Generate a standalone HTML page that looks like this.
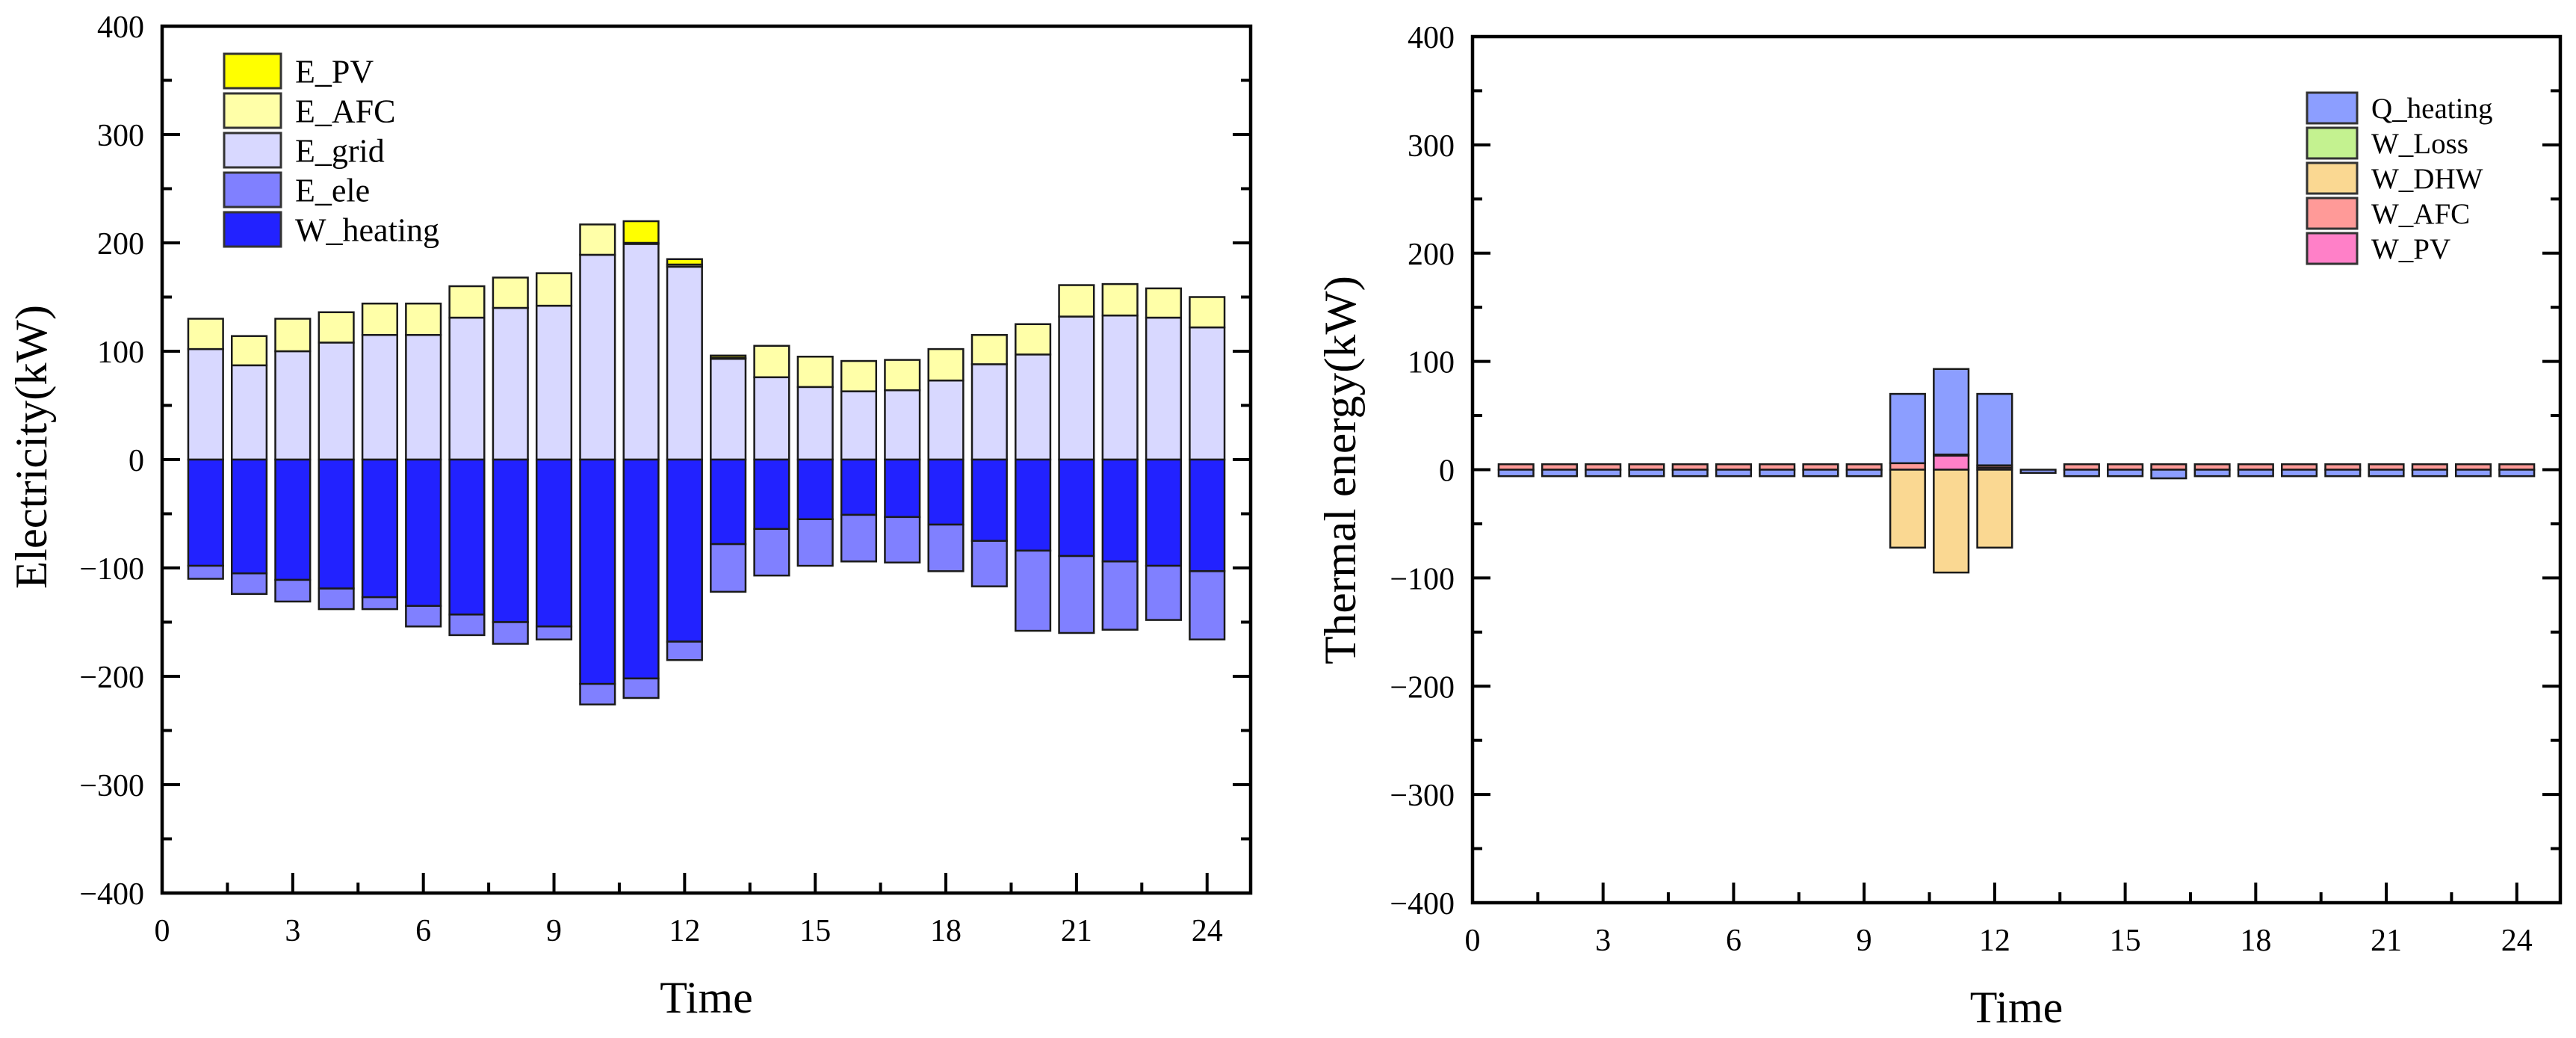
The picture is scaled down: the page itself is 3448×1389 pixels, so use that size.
<!DOCTYPE html>
<html><head><meta charset="utf-8">
<style>
html,body{margin:0;padding:0;background:#fff;}
svg{display:block;font-family:"Liberation Serif",serif;}
</style></head>
<body>
<svg id="fig" width="3448" height="1389" viewBox="0 0 3448 1389" xmlns="http://www.w3.org/2000/svg"></svg>
<script>
// ---------- data ----------
const hours = [1,2,3,4,5,6,7,8,9,10,11,12,13,14,15,16,17,18,19,20,21,22,23,24];
const yTicks = [-400,-300,-200,-100,0,100,200,300,400];
const xTicks = [0,3,6,9,12,15,18,21,24];
// Left chart (electricity)
const E_grid    = [102,87,100,108,115,115,131,140,142,189,199,178,93,76,67,63,64,73,88,97,132,133,131,122];
const E_AFC     = [28,27,30,28,29,29,29,28,30,28,1,2,1,29,28,28,28,29,27,28,29,29,27,28];
const E_PV      = [0,0,0,0,0,0,0,0,0,0,20,5,2,0,0,0,0,0,0,0,0,0,0,0];
const W_heating = [-98,-105,-111,-119,-127,-135,-143,-150,-154,-207,-202,-168,-78,-64,-55,-51,-53,-60,-75,-84,-89,-94,-98,-103];
const E_ele     = [-12,-19,-20,-19,-11,-19,-19,-20,-12,-19,-18,-17,-44,-43,-43,-43,-42,-43,-42,-74,-71,-63,-50,-63];
// Right chart (thermal)
const Q_heating = [-6,-6,-6,-6,-6,-6,-6,-6,-6,64,79,66,-3,-6,-6,-8,-6,-6,-6,-6,-6,-6,-6,-6];
const W_Loss    = [0,0,0,0,0,0,0,0,0,0,0,0,0,0,0,0,0,0,0,0,0,0,0,0];
const W_DHW     = [0,0,0,0,0,0,0,0,0,-72,-95,-72,0,0,0,0,0,0,0,0,0,0,0,0];
const W_AFC     = [5,5,5,5,5,5,5,5,5,6,1,2,0,5,5,5,5,5,5,5,5,5,5,5];
const W_PV      = [0,0,0,0,0,0,0,0,0,0,13,2,0,0,0,0,0,0,0,0,0,0,0,0];

const NS = "http://www.w3.org/2000/svg";
const svg = document.getElementById('fig');
function mk(tag, attrs, parent){
  const e = document.createElementNS(NS, tag);
  for (const k in attrs) e.setAttribute(k, attrs[k]);
  (parent||svg).appendChild(e);
  return e;
}

function drawChart(c){
  const g = mk('g', {});
  
  
  const xs = v => c.x0 + (v - 0) / 25 * (c.x1 - c.x0);
  const ys = v => c.y0 + (400 - v) / 800 * (c.y1 - c.y0);
  const bw = 0.8 * (c.x1 - c.x0) / 25;
  hours.forEach((h, i) => {
    let pos = 0, neg = 0;
    c.posOrder.forEach(s => {
      const v = s.data[i];
      if (v > 0) {
        const r = mk('rect', {x: xs(h) - bw/2, y: ys(pos + v), width: bw, height: ys(pos) - ys(pos + v), fill: s.color, stroke: '#1a1a1a', 'stroke-width': 2.5}, g);
        
        
        pos += v;
      }
    });
    c.negOrder.forEach(s => {
      const v = s.data[i];
      if (v < 0) {
        const r = mk('rect', {x: xs(h) - bw/2, y: ys(neg), width: bw, height: ys(neg + v) - ys(neg), fill: s.color, stroke: '#1a1a1a', 'stroke-width': 2.5}, g);
        
        
        neg += v;
      }
    });
  });
  const fr = mk('rect', {x: c.x0, y: c.y0, width: c.x1 - c.x0, height: c.y1 - c.y0, fill: 'none', stroke: '#000', 'stroke-width': 4.5}, g);
  
  
  for (let v = -400; v <= 400; v += 50) {
    const major = v % 100 === 0;
    const L = major ? 24 : 13;
    mk('line', {x1: c.x0, x2: c.x0 + L, y1: ys(v), y2: ys(v), stroke: '#000', 'stroke-width': 4}, g);
    mk('line', {x1: c.x1, x2: c.x1 - L, y1: ys(v), y2: ys(v), stroke: '#000', 'stroke-width': 4}, g);
  }
  yTicks.forEach(v => {
    const t = mk('text', {x: c.x0 - 24, y: ys(v) + 15, 'text-anchor': 'end', 'font-size': 42, fill: '#000'}, g);
    t.textContent = (v < 0 ? '\u2212' : '') + Math.abs(v);
    
    
  });
  for (let v = 0; v <= 25; v += 1.5) {
    const major = (v % 3 === 0);
    const L = major ? 27 : 14;
    mk('line', {x1: xs(v), x2: xs(v), y1: c.y1, y2: c.y1 - L, stroke: '#000', 'stroke-width': 4}, g);
  }
  xTicks.forEach(v => {
    const t = mk('text', {x: xs(v), y: c.y1 + 64, 'text-anchor': 'middle', 'font-size': 42, fill: '#000'}, g);
    t.textContent = v;
    
    
  });
  const xt = mk('text', {x: (c.x0 + c.x1)/2, y: c.y1 + 160, 'text-anchor': 'middle', 'font-size': 60, fill: '#000'}, g);
  xt.textContent = 'Time';
  
  
  const yt = mk('text', {x: 0, y: 0, 'text-anchor': 'middle', 'font-size': 60, fill: '#000', transform: 'translate(' + c.ytx + ',' + c.yty + ') rotate(-90)', textLength: c.ytLen, lengthAdjust: 'spacingAndGlyphs'}, g);
  yt.textContent = c.ytitle;
  
  
  c.legend.forEach((s, k) => {
    const yy = c.lg.y + k * c.lg.pitch;
    const sw = mk('rect', {x: c.lg.x, y: yy, width: c.lg.w, height: c.lg.h, fill: s.color, stroke: '#333', 'stroke-width': 3}, g);
    
    
    const lt = mk('text', {x: c.lg.x + c.lg.w + 19, y: yy + c.lg.h/2 + c.lg.fs*0.35, 'font-size': c.lg.fs, fill: '#000'}, g);
    lt.textContent = s.label;
    
    
  });
}

const sPV = {key:'e-pv', label:'E_PV', color:'#FFFF00', data:E_PV};
const sAFC = {key:'e-afc', label:'E_AFC', color:'#FFFFA8', data:E_AFC};
const sGrid = {key:'e-grid', label:'E_grid', color:'#D8D8FF', data:E_grid};
const sEle = {key:'e-ele', label:'E_ele', color:'#8080FF', data:E_ele};
const sHeat = {key:'w-heating', label:'W_heating', color:'#2222FF', data:W_heating};
drawChart({name:'electricity-chart', x0:217, x1:1674, y0:35, y1:1195,
  posOrder:[sGrid, sAFC, sPV], negOrder:[sHeat, sEle],
  ytitle:'Electricity(kW)', ytx:62, yty:598, ytLen:380,
  legend:[sPV, sAFC, sGrid, sEle, sHeat],
  lg:{x:300, y:72, w:76, h:46, pitch:53, fs:44}});

const tQ = {key:'q-heating', label:'Q_heating', color:'#8C9EFF', data:Q_heating};
const tL = {key:'w-loss', label:'W_Loss', color:'#C4F290', data:W_Loss};
const tD = {key:'w-dhw', label:'W_DHW', color:'#FAD892', data:W_DHW};
const tA = {key:'w-afc', label:'W_AFC', color:'#FF9A98', data:W_AFC};
const tP = {key:'w-pv', label:'W_PV', color:'#FF80C8', data:W_PV};
drawChart({name:'thermal-chart', x0:1971, x1:3427, y0:49, y1:1208,
  posOrder:[tP, tA, tL, tD, tQ], negOrder:[tQ, tL, tD, tA, tP],
  ytitle:'Thermal energy(kW)', ytx:1814, yty:629, ytLen:520,
  legend:[tQ, tL, tD, tA, tP],
  lg:{x:3088, y:124, w:67, h:41, pitch:47, fs:39}});
</script>
</body></html>
